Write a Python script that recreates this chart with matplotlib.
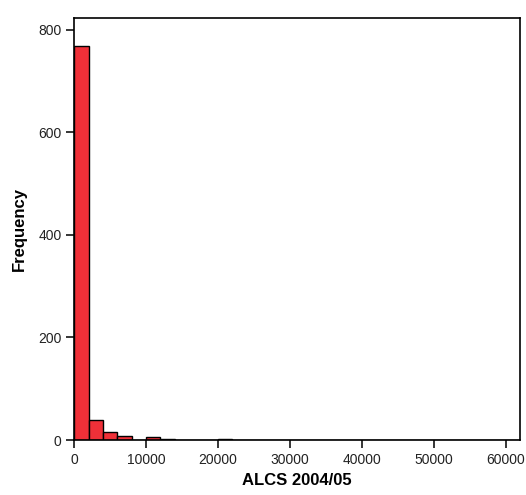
import matplotlib.pyplot as plt
import numpy as np

plt.rcParams['font.family'] = ['Liberation Sans', 'DejaVu Sans']

# histogram bins (width 2000) and counts
bin_width = 2000
counts = [769, 39, 16, 8, 1, 6, 2, 1, 0, 0, 2, 1, 1, 1, 1, 0,
          0, 0, 0, 0, 0, 0, 0, 0, 0, 0, 0, 0, 0, 0, 0]
bin_edges = np.arange(0, bin_width * (len(counts) + 1), bin_width)
x_ticks = [0, 10000, 20000, 30000, 40000, 50000, 60000]
y_ticks = [0, 200, 400, 600, 800]

fig = plt.figure(figsize=(5.26, 4.95), dpi=100)
ax = fig.add_axes([0.141, 0.111, 0.848, 0.853])

ax.hist(bin_edges[:-1], bins=bin_edges, weights=counts,
        color='#ef3038', edgecolor='black', linewidth=1.0)

ax.set_xlim(0, 62000)
ax.set_ylim(0, 823)
ax.set_xticks(x_ticks)
ax.set_yticks(y_ticks)
ax.tick_params(direction='out', length=6, width=1.1, labelsize=10, pad=3,
               labelcolor='#222222')
for s in ax.spines.values():
    s.set_linewidth(1.2)

ax.set_xlabel('ALCS 2004/05', fontsize=12, fontweight='bold', labelpad=5)
ax.set_ylabel('Frequency', fontsize=12, fontweight='bold', labelpad=8)

fig.savefig('out.png', dpi=100)
